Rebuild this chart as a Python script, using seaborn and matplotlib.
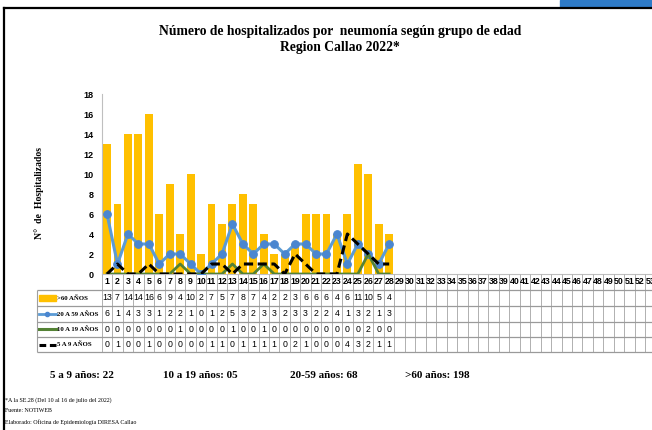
import numpy as np
import pandas as pd
import matplotlib.pyplot as plt
import matplotlib.patches as mpatches
from matplotlib.lines import Line2D
import seaborn as sns

# Datos por semana epidemiologica (SE 1 a 28)
semanas = list(range(1, 29))
mayores_60 = [13, 7, 14, 14, 16, 6, 9, 4, 10, 2, 7, 5, 7, 8, 7, 4, 2, 2, 3, 6, 6, 6, 4, 6, 11, 10, 5, 4]
de_20_59 = [6, 1, 4, 3, 3, 1, 2, 2, 1, 0, 1, 2, 5, 3, 2, 3, 3, 2, 3, 3, 2, 2, 4, 1, 3, 2, 1, 3]
de_10_19 = [0, 0, 0, 0, 0, 0, 0, 1, 0, 0, 0, 0, 1, 0, 0, 1, 0, 0, 0, 0, 0, 0, 0, 0, 0, 2, 0, 0]
de_5_9 = [0, 1, 0, 0, 1, 0, 0, 0, 0, 0, 1, 1, 0, 1, 1, 1, 1, 0, 2, 1, 0, 0, 0, 4, 3, 2, 1, 1]
total_semanas = 53
etiquetas = [">60 AÑOS", "20 A 59 AÑOS", "10 A 19 AÑOS", "5 A 9 AÑOS"]
resumen = ["5 a 9 años: 22", "10 a 19 años: 05", "20-59 años: 68", ">60 años: 198"]

df = pd.DataFrame({"semana": semanas, "m60": mayores_60, "a2059": de_20_59,
                   "a1019": de_10_19, "a59": de_5_9})

AMARILLO = "#FFC000"
AZUL = "#5B9BD5"
VERDE = "#548235"
NEGRO = "#000000"
SERIF = ["Liberation Serif", "DejaVu Serif"]
NARROW = ["Liberation Sans Narrow", "Liberation Sans", "DejaVu Sans"]

W, H = 652, 430
fig = plt.figure(figsize=(W / 100, H / 100), dpi=100)

# pixel helpers
X0, PITCH = 101.8, 10.45
Y_AXIS, Y_TOP = 274, 94


def px2x(px):
    return 0.5 + (px - X0) / PITCH


ax = fig.add_axes([X0 / W, (H - Y_AXIS) / H, total_semanas * PITCH / W, (Y_AXIS - Y_TOP) / H])
sns.barplot(data=df, x="semana", y="m60", native_scale=True, width=0.76,
            color=AMARILLO, saturation=1, linewidth=0, ax=ax, zorder=2)
sns.lineplot(data=df, x="semana", y="a2059", color=AZUL, linewidth=2.2, marker="o",
             markersize=5.5, markerfacecolor="#4A86D0", markeredgecolor="#4A86D0", ax=ax, zorder=3)
sns.lineplot(data=df, x="semana", y="a1019", color=VERDE, linewidth=2, ax=ax, zorder=4)
sns.lineplot(data=df, x="semana", y="a59", color=NEGRO, linewidth=2.2,
             linestyle=(0, (3, 1.5)), ax=ax, zorder=5)

ax.set_xlim(0.5, total_semanas + 0.5)
ax.set_ylim(0, 18)
ax.set_yticks(range(0, 19, 2))
ax.set_xticks([])
ax.set_xlabel("")
ax.set_ylabel("N°  de  Hospitalizados", fontsize=7, fontweight="bold", family=SERIF)
ax.yaxis.set_label_coords(-(X0 - 44) / (total_semanas * PITCH), 0.45)
for lab in ax.get_yticklabels():
    lab.set_family(NARROW)
    lab.set_fontweight("bold")
    lab.set_fontsize(6.5)
ax.tick_params(axis="y", length=0, pad=6)
for s in ["top", "right"]:
    ax.spines[s].set_visible(False)
ax.spines["left"].set_color("#BFBFBF")
ax.spines["bottom"].set_color("#BFBFBF")

# tabla de datos bajo el grafico
tax = fig.add_axes([X0 / W, (H - 352) / H, total_semanas * PITCH / W, (352 - Y_AXIS) / H], sharex=ax)
tax.set_ylim(352, Y_AXIS)
tax.axis("off")
filas_y = [290, 306, 321.5, 337, 352]
x_izq = px2x(37)
x_der = total_semanas + 0.5
for k in range(total_semanas + 1):
    tax.vlines(0.5 + k, Y_AXIS, 352, color="#B0B0B0", linewidth=0.7, clip_on=False)
tax.vlines([x_izq], filas_y[0], 352, color="#A0A0A0", linewidth=0.8, clip_on=False)
tax.hlines(filas_y, x_izq, x_der, color="#9A9A9A", linewidth=0.9, clip_on=False)

for s in range(1, total_semanas + 1):
    tax.text(s, 282, str(s), ha="center", va="center", fontsize=6.3,
             family=NARROW, fontweight="bold", clip_on=False)

series = [mayores_60, de_20_59, de_10_19, de_5_9]
for i, vals in enumerate(series):
    yc = (filas_y[i] + filas_y[i + 1]) / 2
    for s, v in zip(semanas, vals):
        tax.text(s, yc, str(v), ha="center", va="center", fontsize=6.3,
                 family=NARROW, clip_on=False)
    tax.text(px2x(56.5), yc, etiquetas[i], ha="left", va="center", fontsize=4.9,
             family=SERIF, fontweight="bold", clip_on=False)

# iconos de la leyenda
y1 = (filas_y[0] + filas_y[1]) / 2
tax.add_patch(mpatches.Rectangle((px2x(38.5), y1 - 3), (56 - 38.5) / PITCH, 6,
                                 color=AMARILLO, clip_on=False))
y2 = (filas_y[1] + filas_y[2]) / 2
tax.plot([px2x(38.5), px2x(56)], [y2, y2], color=AZUL, linewidth=2, clip_on=False)
tax.plot([px2x(47)], [y2], marker="o", markersize=3, color="#4A86D0", clip_on=False)
y3 = (filas_y[2] + filas_y[3]) / 2
tax.plot([px2x(38.5), px2x(56)], [y3, y3], color=VERDE, linewidth=2.2, clip_on=False)
y4 = (filas_y[3] + filas_y[4]) / 2
tax.plot([px2x(38.5), px2x(56)], [y4, y4], color=NEGRO, linewidth=2.2,
         linestyle=(0, (2.2, 1.2)), clip_on=False)

# titulo
fig.text(340 / W, 1 - 31 / H, "Número de hospitalizados por  neumonía según grupo de edad",
         ha="center", va="center", fontsize=9.8, fontweight="bold", family=SERIF)
fig.text(340 / W, 1 - 48 / H, "Region Callao 2022*", ha="center", va="center",
         fontsize=9.8, fontweight="bold", family=SERIF)

# resumen por grupo
pos_res = [50, 163, 290, 405]
for x, t in zip(pos_res, resumen):
    fig.text(x / W, 1 - 375 / H, t, ha="left", va="center", fontsize=8,
             family=SERIF, fontweight="semibold")

# notas
notas = ["*A la SE.28 (Del 10 al 16 de julio del 2022)", "Fuente: NOTIWEB",
         "Elaborado: Oficina de Epidemiología DIRESA Callao"]
for j, t in enumerate(notas):
    fig.text(5 / W, 1 - (400 + 11 * j) / H, t, ha="left", va="center", fontsize=4.3, family=SERIF)

# marco
fig.add_artist(Line2D([3.5 / W, 3.5 / W], [0, 1 - 8 / H], color="black", linewidth=1.6))
fig.add_artist(Line2D([3.5 / W, 1], [1 - 8 / H, 1 - 8 / H], color="black", linewidth=1.6))
fig.add_artist(mpatches.Rectangle((560 / W, 1 - 7 / H), 92 / W, 7 / H, color="#2E7BC8",
                                  transform=fig.transFigure))

fig.savefig("out.png", dpi=100)
